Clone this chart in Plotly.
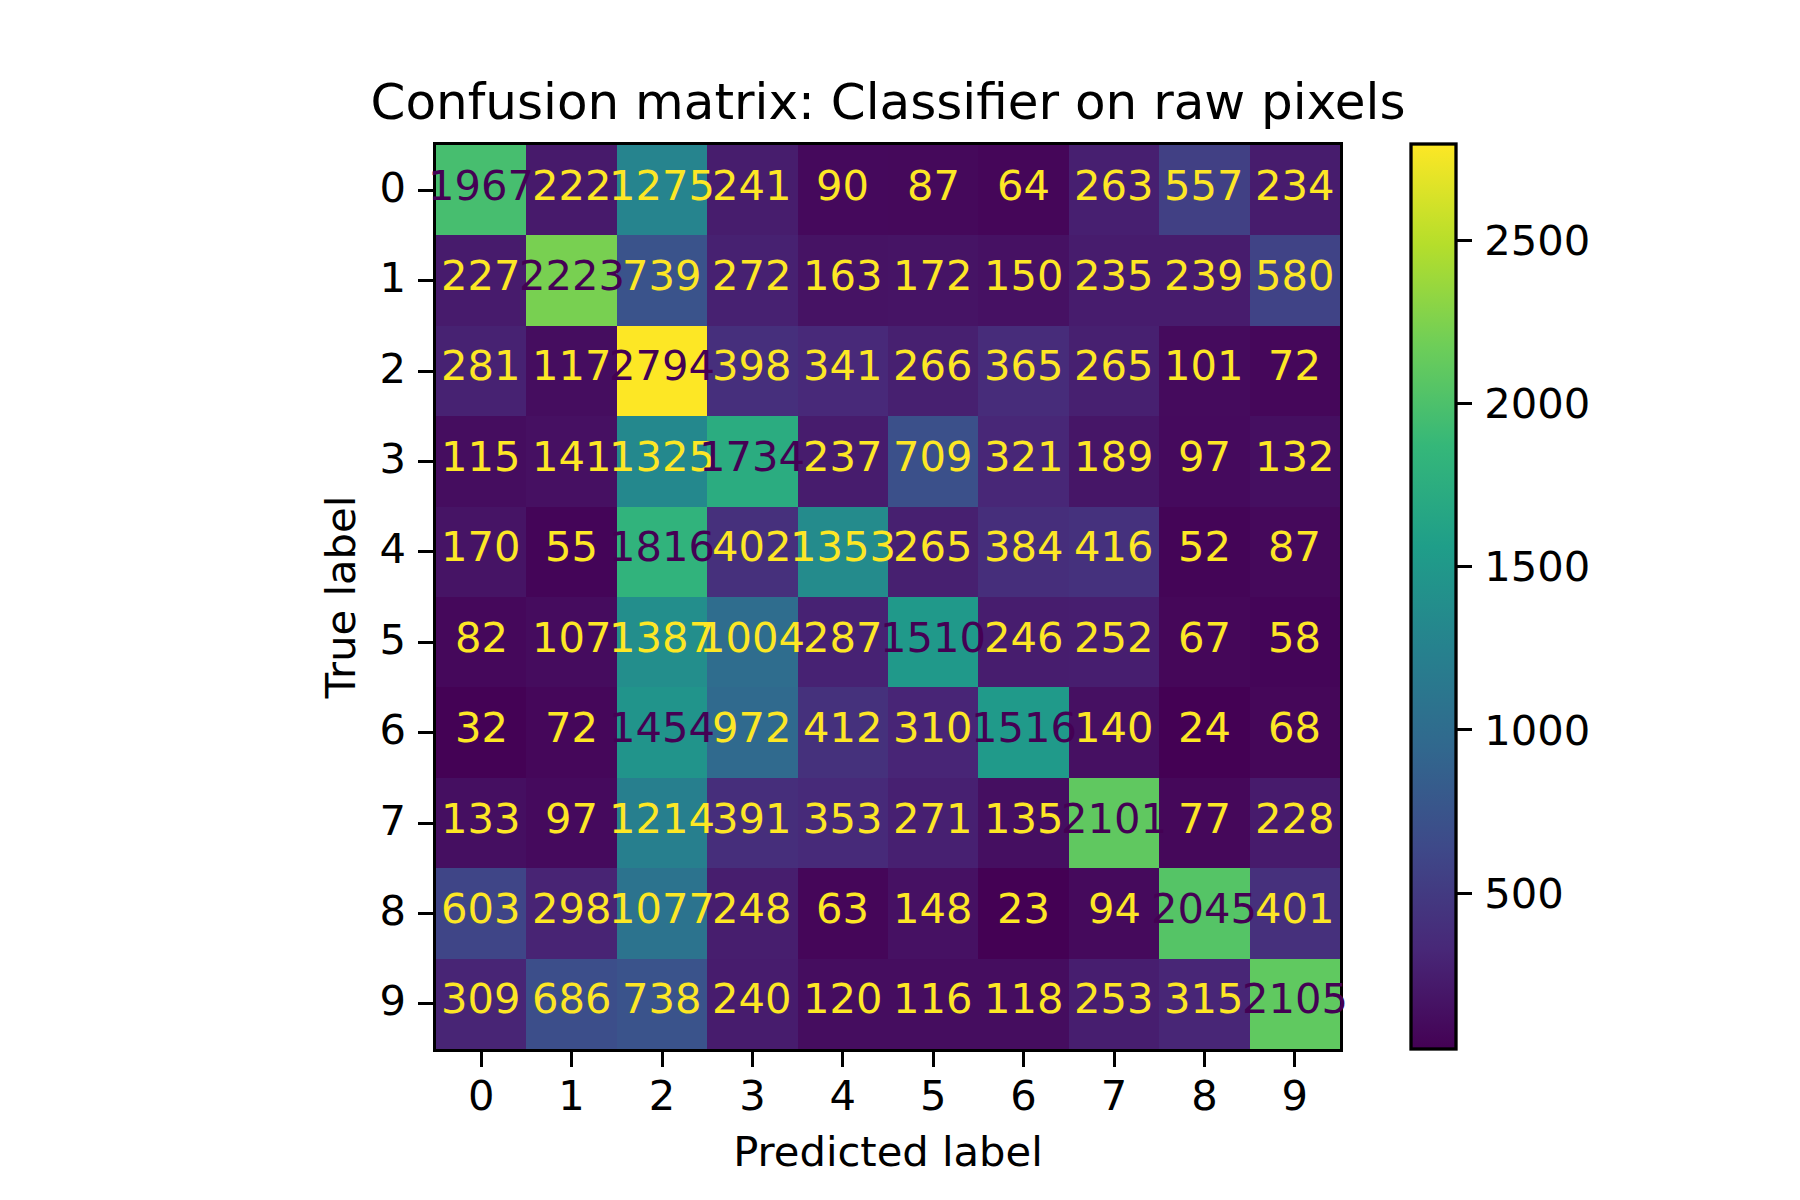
import plotly.graph_objects as go

labels = [0, 1, 2, 3, 4, 5, 6, 7, 8, 9]
row_0 = [1967, 222, 1275, 241, 90, 87, 64, 263, 557, 234]
row_1 = [227, 2223, 739, 272, 163, 172, 150, 235, 239, 580]
row_2 = [281, 117, 2794, 398, 341, 266, 365, 265, 101, 72]
row_3 = [115, 141, 1325, 1734, 237, 709, 321, 189, 97, 132]
row_4 = [170, 55, 1816, 402, 1353, 265, 384, 416, 52, 87]
row_5 = [82, 107, 1387, 1004, 287, 1510, 246, 252, 67, 58]
row_6 = [32, 72, 1454, 972, 412, 310, 1516, 140, 24, 68]
row_7 = [133, 97, 1214, 391, 353, 271, 135, 2101, 77, 228]
row_8 = [603, 298, 1077, 248, 63, 148, 23, 94, 2045, 401]
row_9 = [309, 686, 738, 240, 120, 116, 118, 253, 315, 2105]
matrix = [row_0, row_1, row_2, row_3, row_4, row_5, row_6, row_7, row_8, row_9]
cbar_ticks = [500, 1000, 1500, 2000, 2500]

W, H = 1792, 1192
L, R, T, B = 428, 1332, 137, 1041
FONT = "DejaVu Sans"
FS = 41.67
LW = 3.3

zmin = min(min(r) for r in matrix)
zmax = max(max(r) for r in matrix)
thr = (zmin + zmax) / 2

annotations = []
for i, r in enumerate(matrix):
    for j, v in enumerate(r):
        annotations.append(dict(
            x=j, y=i, xref="x", yref="y", text=str(v), showarrow=False,
            xanchor="center", yanchor="middle", yshift=5,
            font=dict(family=FONT, size=FS, color="#440154" if v > thr else "#fde725"),
        ))

fig = go.Figure()
fig.add_trace(go.Heatmap(
    z=matrix, x=labels, y=labels, colorscale="Viridis", zmin=zmin, zmax=zmax,
    colorbar=dict(
        x=1403 / W, xanchor="left", xref="paper", y=1 - (T - 1) / H, yanchor="top", yref="paper",
        len=(B - T + 1) / H, lenmode="fraction", thickness=45, thicknessmode="pixels",
        outlinewidth=LW, outlinecolor="black", tickmode="array", tickvals=cbar_ticks,
        ticktext=["\u200a" + str(v) for v in cbar_ticks],
        ticks="outside", ticklen=14.6, tickwidth=LW, tickcolor="black",
        tickfont=dict(family=FONT, size=FS, color="black"), xpad=0, ypad=0,
    ),
))
axis = dict(
    tickmode="array", tickvals=labels, ticktext=[str(v) for v in labels],
    ticks="outside", ticklen=14.6, tickwidth=LW, tickcolor="black",
    tickfont=dict(family=FONT, size=FS, color="black"),
    showline=True, linecolor="black", linewidth=LW, mirror=True,
    showgrid=False, zeroline=False,
)
fig.update_layout(
    width=W, height=H, margin=dict(l=0, r=0, t=0, b=0),
    paper_bgcolor="white", plot_bgcolor="white", showlegend=False,
    font=dict(family=FONT, color="black"),
    annotations=annotations,
    title=dict(text="Confusion matrix: Classifier on raw pixels", font=dict(family=FONT, size=50, color="black"),
               x=(L + R) / 2 / W, xanchor="center", xref="paper", y=1 - 93 / H, yanchor="middle", yref="container"),
    xaxis=dict(axis, domain=[L / W, R / W], range=[-0.5, 9.5], ticklabelstandoff=-7,
               title=dict(text="Predicted label", font=dict(family=FONT, size=FS, color="black"), standoff=19)),
    yaxis=dict(axis, domain=[1 - B / H, 1 - T / H], range=[9.5, -0.5], ticklabelstandoff=4, ticklabelshift=3,
               title=dict(text="True label", font=dict(family=FONT, size=FS, color="black"), standoff=11)),
)
fig.write_html("out.html")
